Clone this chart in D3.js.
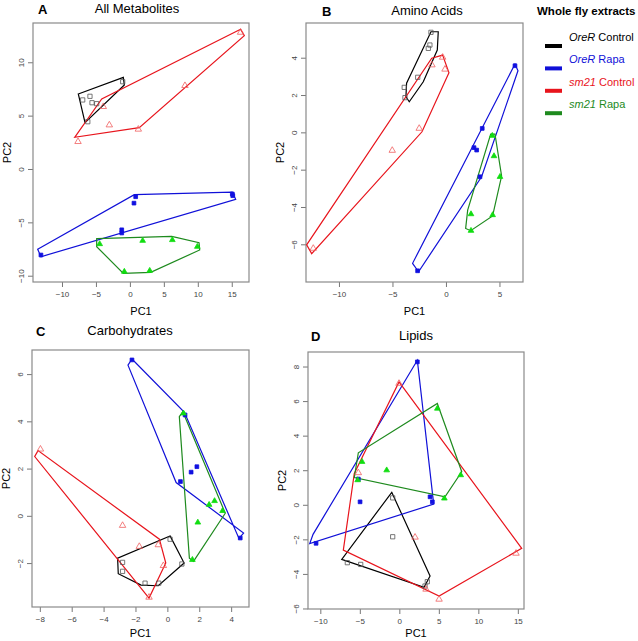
<!DOCTYPE html>
<html>
<head>
<meta charset="utf-8">
<script src="https://cdn.jsdelivr.net/npm/d3@7"></script>
<style>
  body { margin: 0; background: #fff; }
  svg { font-family: "Liberation Sans", Arial, sans-serif; }
  .tick text { fill: #444; font-size: 8px; }
  .tick line { stroke: #777; }
</style>
</head>
<body>
<div class="chart"></div>
<script>
// groups, in legend order
var groups = ["OreR Control", "OreR Rapa", "sm21 Control", "sm21 Rapa"];

// PCA scores [PC1, PC2] per group
var allMetPoints = [
  [[-6.95,6.47],[-5.88,6.81],[-5.58,6.21],[-4.89,6.12],[-6.2,4.43],[-1.06,8.18]],
  [[-13.1,-8.06],[0.85,-2.6],[0.6,-3.2],[-1.2,-5.7],[-1.2,-6.0],[15.08,-2.34],[15.15,-2.5]],
  [[-7.64,2.56],[-3.92,5.84],[-3.03,4.12],[1.24,3.72],[8.11,7.81],[16.3,12.8]],
  [[-4.45,-7.03],[1.88,-6.72],[6.25,-6.65],[9.93,-7.28],[-0.82,-9.62],[2.92,-9.53]]
];
var allMetHulls = [
  [[-7.6,7.03],[-0.97,8.59],[-0.82,7.87],[-6.61,4.34]],
  [[-13.58,-7.53],[-13.1,-8.22],[15.58,-2.84],[15.08,-2.16],[0.65,-2.41]],
  [[-8.13,2.97],[-4.15,6.56],[16.3,13.1],[16.85,12.5],[1.38,3.87]],
  [[-4.89,-6.53],[6.16,-6.31],[10.18,-6.9],[10.28,-7.59],[3.06,-9.68],[-0.97,-9.78],[-4.89,-7.28]]
];

var aminoPoints = [
  [[-1.4,5.36],[-1.5,4.68],[-1.65,4.5],[-2.64,2.95],[-3.9,2.41],[-3.83,1.86]],
  [[6.45,3.57],[3.39,0.21],[2.62,-0.82],[2.87,-0.95],[3.18,-2.38],[-2.65,-7.42]],
  [[-0.31,4.02],[-0.09,3.38],[-1.31,3.61],[-2.5,0.21],[-5.02,-0.97],[-12.4,-6.22]],
  [[4.33,-0.18],[4.49,-1.27],[5.05,-2.38],[2.34,-4.38],[4.36,-4.43],[2.34,-5.27]]
];
var aminoHulls = [
  [[-1.4,5.39],[-0.72,5.39],[-0.81,4.41],[-2.12,2.71],[-3.43,1.64],[-3.74,1.91],[-3.68,2.63]],
  [[6.45,3.66],[6.73,3.3],[3.33,-2.38],[-2.56,-7.47],[-3.12,-7.02]],
  [[-0.31,4.14],[0.28,3.19],[-2.24,0.03],[-12.55,-6.5],[-13.02,-6.03],[-1.33,3.97]],
  [[4.18,-0.09],[4.58,-0.09],[5.2,-2.34],[4.36,-4.48],[2.31,-5.27],[1.84,-5.15],[2.03,-4.17]]
];

var carbPoints = [
  [[0.17,-0.99],[0.91,-2.04],[-2.81,-1.97],[-2.81,-2.35],[-1.4,-2.85],[-0.54,-2.85]],
  [[-2.22,6.6],[1.11,4.27],[0.82,1.45],[1.49,1.85],[1.85,2.08],[4.57,-0.94]],
  [[-7.96,2.82],[-2.81,-0.41],[-1.76,-1.3],[-0.57,-1.23],[-0.25,-2.11],[-1.15,-3.45]],
  [[1.01,4.34],[2.62,0.47],[2.96,0.63],[3.46,0.21],[1.91,-0.28],[1.57,-1.86]]
];
var carbHulls = [
  [[0.17,-0.85],[1.05,-2.0],[-0.57,-2.96],[-1.65,-2.93],[-3.08,-2.45],[-3.12,-1.79]],
  [[-2.22,6.64],[-2.47,6.38],[0.55,1.41],[4.78,-0.73],[4.49,-0.96],[1.07,4.38]],
  [[-8.11,2.76],[-8.32,2.51],[-1.15,-3.48],[-0.1,-2.0],[-0.5,-0.99]],
  [[0.75,4.2],[0.97,4.41],[3.63,0.11],[1.64,-1.93],[1.38,-1.79]]
];

var lipidPoints = [
  [[-0.84,0.4],[-0.84,-1.85],[-6.58,-3.35],[-4.89,-3.45],[3.54,-4.45],[3.25,-4.7]],
  [[2.28,8.27],[3.89,0.46],[4.18,0.17],[-4.97,0.17],[-5.19,1.49],[-10.54,-2.23]],
  [[-0.04,7.02],[-5.19,1.85],[1.99,-1.88],[14.77,-2.81],[3.38,-4.89],[5.03,-5.47]],
  [[4.81,5.57],[-4.72,2.49],[-1.6,2.0],[-5.27,1.43],[7.77,1.72],[5.7,0.37]]
];
var lipidHulls = [
  [[-0.96,0.72],[3.89,-4.12],[3.13,-4.77],[-7.29,-3.16]],
  [[2.28,8.36],[4.35,0.04],[-11.34,-2.25],[-10.92,-1.71]],
  [[-0.04,7.11],[15.49,-2.52],[5.03,-5.28],[-7.09,-2.62],[-5.7,1.81]],
  [[4.81,5.86],[7.9,1.91],[5.78,0.46],[-5.7,1.58],[-5.19,3.01]]
];

var allMetXTicks = [-10,-5,0,5,10,15],  allMetYTicks = [-10,-5,0,5,10];
var aminoXTicks  = [-10,-5,0,5],        aminoYTicks  = [-6,-4,-2,0,2,4];
var carbXTicks   = [-8,-6,-4,-2,0,2,4], carbYTicks   = [-2,0,2,4,6];
var lipidXTicks  = [-10,-5,0,5,10,15],  lipidYTicks  = [-6,-4,-2,0,2,4,6,8];

var lineColors  = ["#000000", "#1010d8", "#e8141c", "#1e8a1e"];
var pointColors = ["#555555", "#1010e0", "#f06060", "#10dd10"];

var panels = [
  {letter:"A", title:"All Metabolites", pts:allMetPoints, hulls:allMetHulls, xt:allMetXTicks, yt:allMetYTicks,
   box:[33,23,249,282], xd:[-14.27,17.54], yd:[-10.59,13.68], titleX:137, lx:[38,14]},
  {letter:"B", title:"Amino Acids", pts:aminoPoints, hulls:aminoHulls, xt:aminoXTicks, yt:aminoYTicks,
   box:[306,23,523,282], xd:[-13.08,7.2], yd:[-8.02,5.86], titleX:427, lx:[322,16]},
  {letter:"C", title:"Carbohydrates", pts:carbPoints, hulls:carbHulls, xt:carbXTicks, yt:carbYTicks,
   box:[32,350,249,607], xd:[-8.49,5.12], yd:[-3.86,7.02], titleX:130, lx:[36,336]},
  {letter:"D", title:"Lipids", pts:lipidPoints, hulls:lipidHulls, xt:lipidXTicks, yt:lipidYTicks,
   box:[308,352,524,609], xd:[-11.56,15.78], yd:[-6.03,8.84], titleX:416, lx:[311,341]}
];

var svg = d3.select("div.chart").append("svg")
  .attr("width", 638).attr("height", 641);

var symbolTypes = [d3.symbolSquare, d3.symbolSquare, d3.symbolTriangle, d3.symbolTriangle];
var symbolFilled = [false, true, false, true];

panels.forEach(function(p){
  var b = p.box;
  var x = d3.scaleLinear().domain(p.xd).range([b[0], b[2]]);
  var y = d3.scaleLinear().domain(p.yd).range([b[3], b[1]]);
  var g = svg.append("g");

  g.append("text").attr("x", p.lx[0]).attr("y", p.lx[1])
    .attr("font-weight", "bold").attr("font-size", 13).text(p.letter);
  g.append("text").attr("x", p.titleX).attr("y", p.lx[1] - 1)
    .attr("text-anchor", "middle").attr("font-size", 13).text(p.title);

  // axes
  var xa = g.append("g").attr("transform", "translate(0," + b[3] + ")")
    .call(d3.axisBottom(x).tickValues(p.xt).tickSize(5).tickPadding(4));
  xa.select(".domain").remove();
  var ya = g.append("g").attr("transform", "translate(" + b[0] + ",0)")
    .call(d3.axisLeft(y).tickValues(p.yt).tickSize(5).tickPadding(0));
  ya.select(".domain").remove();
  ya.selectAll(".tick text")
    .attr("transform", "translate(-12,0) rotate(-90)")
    .attr("text-anchor", "middle").attr("x", 0).attr("dy", "0.35em");

  g.append("rect").attr("x", b[0]).attr("y", b[1])
    .attr("width", b[2] - b[0]).attr("height", b[3] - b[1])
    .attr("fill", "none").attr("stroke", "#8a8a8a").attr("stroke-width", 1.2);

  g.append("text").attr("x", (b[0] + b[2]) / 2).attr("y", Math.min(b[3] + 33, 637))
    .attr("text-anchor", "middle").attr("font-size", 11).text("PC1");
  g.append("text")
    .attr("transform", "translate(" + (b[0] - 22) + "," + ((b[1] + b[3]) / 2) + ") rotate(-90)")
    .attr("text-anchor", "middle").attr("font-size", 11).text("PC2");

  // hulls
  p.hulls.forEach(function(h, i){
    g.append("path")
      .attr("d", d3.line().x(function(d){ return x(d[0]); }).y(function(d){ return y(d[1]); })(h) + "Z")
      .attr("fill", "none").attr("stroke", lineColors[i]).attr("stroke-width", 1.2);
  });

  // points
  p.pts.forEach(function(pts, i){
    g.selectAll(null).data(pts).enter().append("path")
      .attr("transform", function(d){ return "translate(" + x(d[0]) + "," + y(d[1]) + ")"; })
      .attr("d", d3.symbol().type(symbolTypes[i]).size(symbolFilled[i] ? 14 : 18))
      .attr("fill", symbolFilled[i] ? pointColors[i] : "none")
      .attr("stroke", pointColors[i]).attr("stroke-width", 0.8);
  });
});

// legend
var legend = svg.append("g");
legend.append("text").attr("x", 537).attr("y", 15)
  .attr("font-weight", "bold").attr("font-size", 11.5).text("Whole fly extracts");
groups.forEach(function(name, i){
  var yy = 46 + i * 22.4;
  legend.append("line").attr("x1", 545).attr("x2", 562).attr("y1", yy).attr("y2", yy)
    .attr("stroke", lineColors[i]).attr("stroke-width", 4);
  var parts = name.split(" ");
  var t = legend.append("text").attr("x", 569).attr("y", yy - 5)
    .attr("font-size", 11).attr("fill", lineColors[i]);
  t.append("tspan").attr("font-style", "italic").text(parts[0]);
  t.append("tspan").text(" " + parts[1]);
});
</script>
</body>
</html>
